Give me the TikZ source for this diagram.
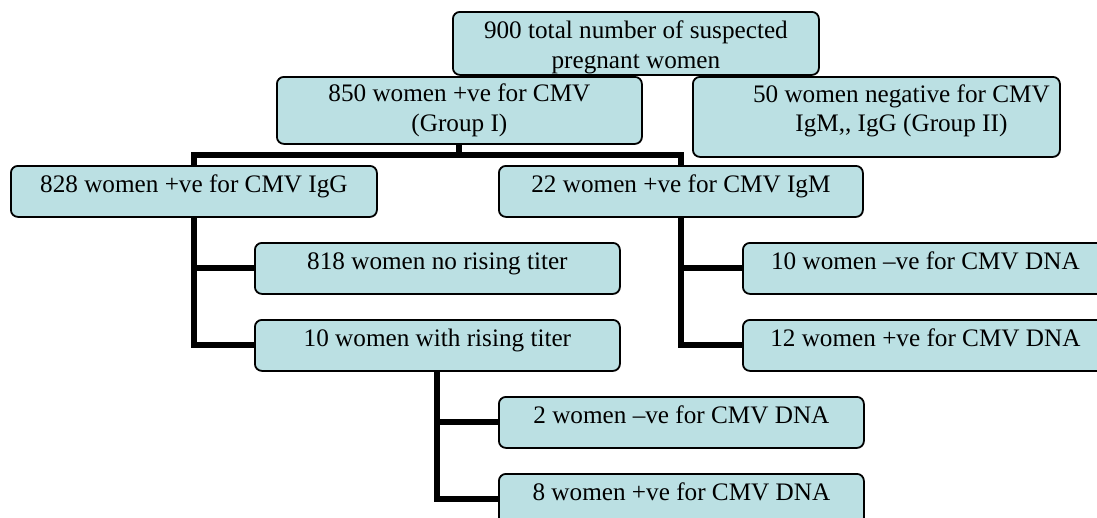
\documentclass[tikz,border=0pt]{standalone}
\usepackage{fontspec}
\setmainfont{Liberation Serif}
\definecolor{boxfill}{RGB}{187,224,227}
\begin{document}
\begin{tikzpicture}[x=1pt,y=-1pt,
  box/.style={draw=black, line width=1.8pt, fill=boxfill, rounded corners=7pt,
    inner sep=0pt, anchor=north west},
  txt/.style={inner sep=0pt, anchor=base, align=center,
    font=\fontsize{25.2}{29.5}\selectfont},
  link/.style={draw=black, line width=6pt}]
\useasboundingbox (0,0) rectangle (1097,517);
\clip (0,0) rectangle (1097,517);
% boxes
\node[box, minimum width=366pt, minimum height=63pt] (top) at (452,11) {};
\node[box, minimum width=365pt, minimum height=67pt] (g1) at (276,76) {};
\node[box, minimum width=367pt, minimum height=80pt] (g2) at (692,76) {};
\node[box, minimum width=366pt, minimum height=51pt] (igg) at (10,165) {};
\node[box, minimum width=364pt, minimum height=51pt] (igm) at (498,165) {};
\node[box, minimum width=365pt, minimum height=51pt] (nr) at (254,242) {};
\node[box, minimum width=365pt, minimum height=51pt] (rt) at (254,319) {};
\node[box, minimum width=365pt, minimum height=51pt] (d2) at (498,396) {};
\node[box, minimum width=365pt, minimum height=51pt] (d8) at (498,473) {};
\node[box, minimum width=365pt, minimum height=51pt] (n10) at (742,242) {};
\node[box, minimum width=365pt, minimum height=51pt] (p12) at (742,319) {};
% texts (base anchor = baseline of the last line)
\node[txt] (topt) at ([yshift=-57.3pt]top.north) {900 total number of suspected\\pregnant women};
\node[txt] (g1t) at ([yshift=-55pt]g1.north) {850 women +ve for CMV\\(Group I)};
\node[txt] (g2t) at ([xshift=25pt,yshift=-55.7pt]g2.north) {50 women negative for CMV\\IgM,{}, IgG (Group II)};
\node[txt] (iggt) at ([yshift=-27.5pt]igg.north) {828 women +ve for CMV IgG};
\node[txt] (igmt) at ([yshift=-27.5pt]igm.north) {22 women +ve for CMV IgM};
\node[txt] (nrt) at ([yshift=-27pt]nr.north) {818 women no rising titer};
\node[txt] (rtt) at ([yshift=-27pt]rt.north) {10 women with rising titer};
\node[txt] (d2t) at ([yshift=-27pt]d2.north) {2 women –ve for CMV DNA};
\node[txt] (d8t) at ([yshift=-27pt]d8.north) {8 women +ve for CMV DNA};
\node[txt] (n10t) at ([yshift=-27pt]n10.north) {10 women –ve for CMV DNA};
\node[txt] (p12t) at ([yshift=-27pt]p12.north) {12 women +ve for CMV DNA};
% connectors
\draw[link] (g1.south) -- ++(0,10.5) -| (igg.north);
\draw[link] (g1.south) -- ++(0,10.5) -| (igm.north);
\draw[link] (igg.south) |- (nr.west);
\draw[link] (igg.south) |- (rt.west);
\draw[link] (igm.south) |- (n10.west);
\draw[link] (igm.south) |- (p12.west);
\draw[link] (rt.south) |- (d2.west);
\draw[link] (rt.south) |- (d8.west);
\end{tikzpicture}
\end{document}
